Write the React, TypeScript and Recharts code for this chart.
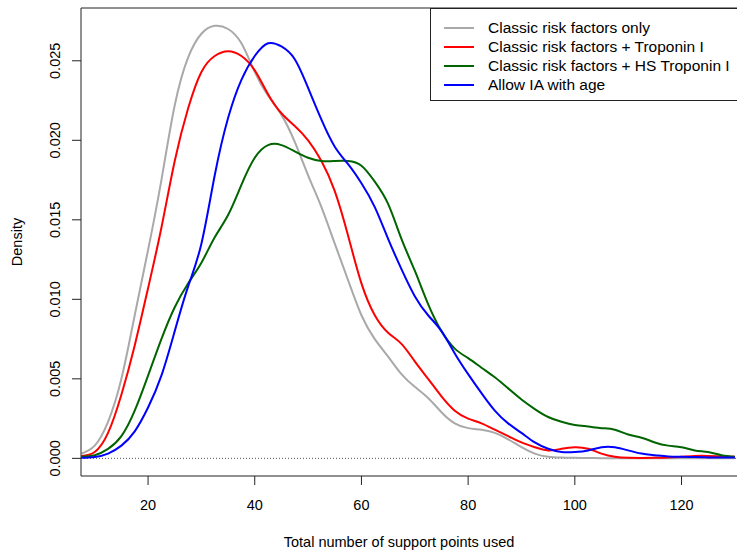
import React from 'react';
import { LineChart, Line, XAxis, YAxis, ReferenceLine } from 'recharts';

const xs = [7.5, 10, 12.5, 15, 17.5, 20, 22.5, 25, 27.5, 30, 32.5, 35, 37.5, 40, 42.5, 45, 47.5, 50, 52.5, 55, 57.5, 60, 62.5, 65, 67.5, 70, 72.5, 75, 77.5, 80, 82.5, 85, 87.5, 90, 92.5, 95, 97.5, 100, 102.5, 105, 107.5, 110, 112.5, 115, 117.5, 120, 122.5, 125, 127.5, 130];

const classicOnly = [0.0003, 0.0008, 0.0023, 0.005, 0.009, 0.0131, 0.0175, 0.0222, 0.0252, 0.0267, 0.0272, 0.027, 0.0261, 0.0243, 0.0228, 0.0216, 0.0199, 0.0178, 0.0158, 0.0135, 0.0112, 0.009, 0.0075, 0.0064, 0.0053, 0.0045, 0.0038, 0.0029, 0.0022, 0.0019, 0.0018, 0.0016, 0.0012, 0.0007, 0.0003, 0.0001, 0.00005, 0.00003, 0.00002, 0.00001, 0.00001, 0.00001, 0, 0, 0, 0, 0, 0, 0, 0];

const troponin = [0.00015, 0.0004, 0.0016, 0.004, 0.0071, 0.0107, 0.0145, 0.0187, 0.022, 0.0243, 0.0253, 0.0256, 0.0253, 0.0244, 0.0229, 0.0217, 0.0209, 0.02, 0.0187, 0.0168, 0.014, 0.011, 0.009, 0.0079, 0.0072, 0.0061, 0.005, 0.0039, 0.003, 0.0025, 0.0022, 0.0018, 0.0014, 0.001, 0.0007, 0.0005, 0.0006, 0.0007, 0.0006, 0.0003, 0.0001, 0.00003, 0.00002, 0.00003, 0.00006, 0.0001, 0.00015, 0.00015, 0.00012, 0.0001];

const hsTroponin = [0.0001, 0.0002, 0.0006, 0.0014, 0.003, 0.0052, 0.0075, 0.0095, 0.011, 0.0123, 0.0139, 0.0153, 0.0172, 0.0189, 0.0197, 0.0197, 0.0193, 0.0189, 0.0187, 0.0187, 0.0187, 0.0184, 0.0174, 0.016, 0.0138, 0.0118, 0.0097, 0.008, 0.0069, 0.0063, 0.0057, 0.0051, 0.0044, 0.0037, 0.0031, 0.0026, 0.0023, 0.0021, 0.002, 0.0019, 0.0018, 0.0015, 0.0013, 0.001, 0.0008, 0.0007, 0.0005, 0.0004, 0.0002, 0.0001];

const iaWithAge = [0.00003, 0.00008, 0.0003, 0.0008, 0.0017, 0.0032, 0.0052, 0.008, 0.0108, 0.0135, 0.0178, 0.0214, 0.0238, 0.0253, 0.0261, 0.0259, 0.0251, 0.0233, 0.0213, 0.0196, 0.0185, 0.0173, 0.0158, 0.0138, 0.0119, 0.0102, 0.009, 0.008, 0.0066, 0.0053, 0.0041, 0.003, 0.0022, 0.0016, 0.001, 0.0006, 0.0004, 0.0004, 0.0005, 0.0007, 0.0007, 0.0005, 0.0003, 0.0002, 0.00012, 0.0001, 0.00008, 0.00006, 0.00005, 0.00005];

const seriesNames = [
  'Classic risk factors only',
  'Classic risk factors + Troponin I',
  'Classic risk factors + HS Troponin I',
  'Allow IA with age',
];
const seriesKeys = ['classic', 'trop', 'hs', 'ia'];
const seriesColors = ['#A9A9A9', '#FF0000', '#006400', '#0000FF'];

const xTicks = [20, 40, 60, 80, 100, 120];
const yTicks = [0, 0.005, 0.01, 0.015, 0.02, 0.025];

const X_MIN = 7.43;
const X_MAX = 130.4;
const Y_MIN = -0.00111;
const Y_MAX = 0.02832;

const data = xs.map((x, i) => ({
  x,
  classic: classicOnly[i],
  trop: troponin[i],
  hs: hsTroponin[i],
  ia: iaWithAge[i],
}));

const FONT = '"Liberation Sans", Arial, Helvetica, sans-serif';
const AXIS_COLOR = '#222';

const XTick = (props: any) => (
  <text x={props.x} y={509.5} textAnchor="middle" fontSize={14.5} fontFamily={FONT} fill="#000">
    {props.payload.value}
  </text>
);

const YTick = (props: any) => (
  <text
    x={60}
    y={props.y}
    textAnchor="middle"
    fontSize={14.5}
    fontFamily={FONT}
    fill="#000"
    transform={`rotate(-90, 60, ${props.y})`}
  >
    {Number(props.payload.value).toFixed(3)}
  </text>
);

export default function App() {
  return (
    <div style={{ position: 'absolute', left: 0, top: 0, width: 737, height: 552, overflow: 'hidden', background: '#fff' }}>
      <LineChart width={737} height={552} data={data} margin={{ top: 8, right: 0, left: 0, bottom: 0 }}>
        <XAxis
          dataKey="x"
          type="number"
          domain={[X_MIN, X_MAX]}
          allowDataOverflow
          ticks={xTicks}
          tick={XTick}
          tickSize={9}
          height={76}
          stroke={AXIS_COLOR}
          axisLine={{ stroke: AXIS_COLOR, strokeWidth: 1 }}
          tickLine={{ stroke: AXIS_COLOR }}
        />
        <YAxis
          type="number"
          domain={[Y_MIN, Y_MAX]}
          allowDataOverflow
          ticks={yTicks}
          tick={YTick}
          tickSize={9}
          width={81}
          stroke={AXIS_COLOR}
          axisLine={{ stroke: AXIS_COLOR, strokeWidth: 1 }}
          tickLine={{ stroke: AXIS_COLOR }}
        />
        <ReferenceLine y={Y_MAX} stroke={AXIS_COLOR} strokeWidth={1} ifOverflow="visible" />
        <ReferenceLine y={0} stroke="#555" strokeWidth={1} strokeDasharray="1 2" />
        {seriesKeys.map((k, i) => (
          <Line
            key={k}
            dataKey={k}
            name={seriesNames[i]}
            type="natural"
            stroke={seriesColors[i]}
            strokeWidth={2}
            dot={false}
            activeDot={false}
            isAnimationActive={false}
          />
        ))}
      </LineChart>
      <svg width={737} height={552} style={{ position: 'absolute', left: 0, top: 0, pointerEvents: 'none' }}>
        <text x={399} y={547} textAnchor="middle" fontSize={14.5} fontFamily={FONT} fill="#000">
          Total number of support points used
        </text>
        <text x={22} y={242} textAnchor="middle" fontSize={14.5} fontFamily={FONT} fill="#000" transform="rotate(-90, 22, 242)">
          Density
        </text>
      </svg>
      <div
        style={{
          position: 'absolute',
          left: 430,
          top: 8,
          width: 400,
          height: 93,
          border: `1px solid ${AXIS_COLOR}`,
          boxSizing: 'border-box',
          background: '#fff',
          fontFamily: FONT,
          fontSize: 15.5,
        }}
      >
        {seriesNames.map((n, i) => (
          <div key={n} style={{ position: 'absolute', left: 0, top: 19 * i + 10, height: 18, width: 400 }}>
            <div style={{ position: 'absolute', left: 13, top: 8, width: 30, height: 2, background: seriesColors[i] }} />
            <div style={{ position: 'absolute', left: 57, top: 0, lineHeight: '18px', whiteSpace: 'nowrap', color: '#000' }}>{n}</div>
          </div>
        ))}
      </div>
    </div>
  );
}
